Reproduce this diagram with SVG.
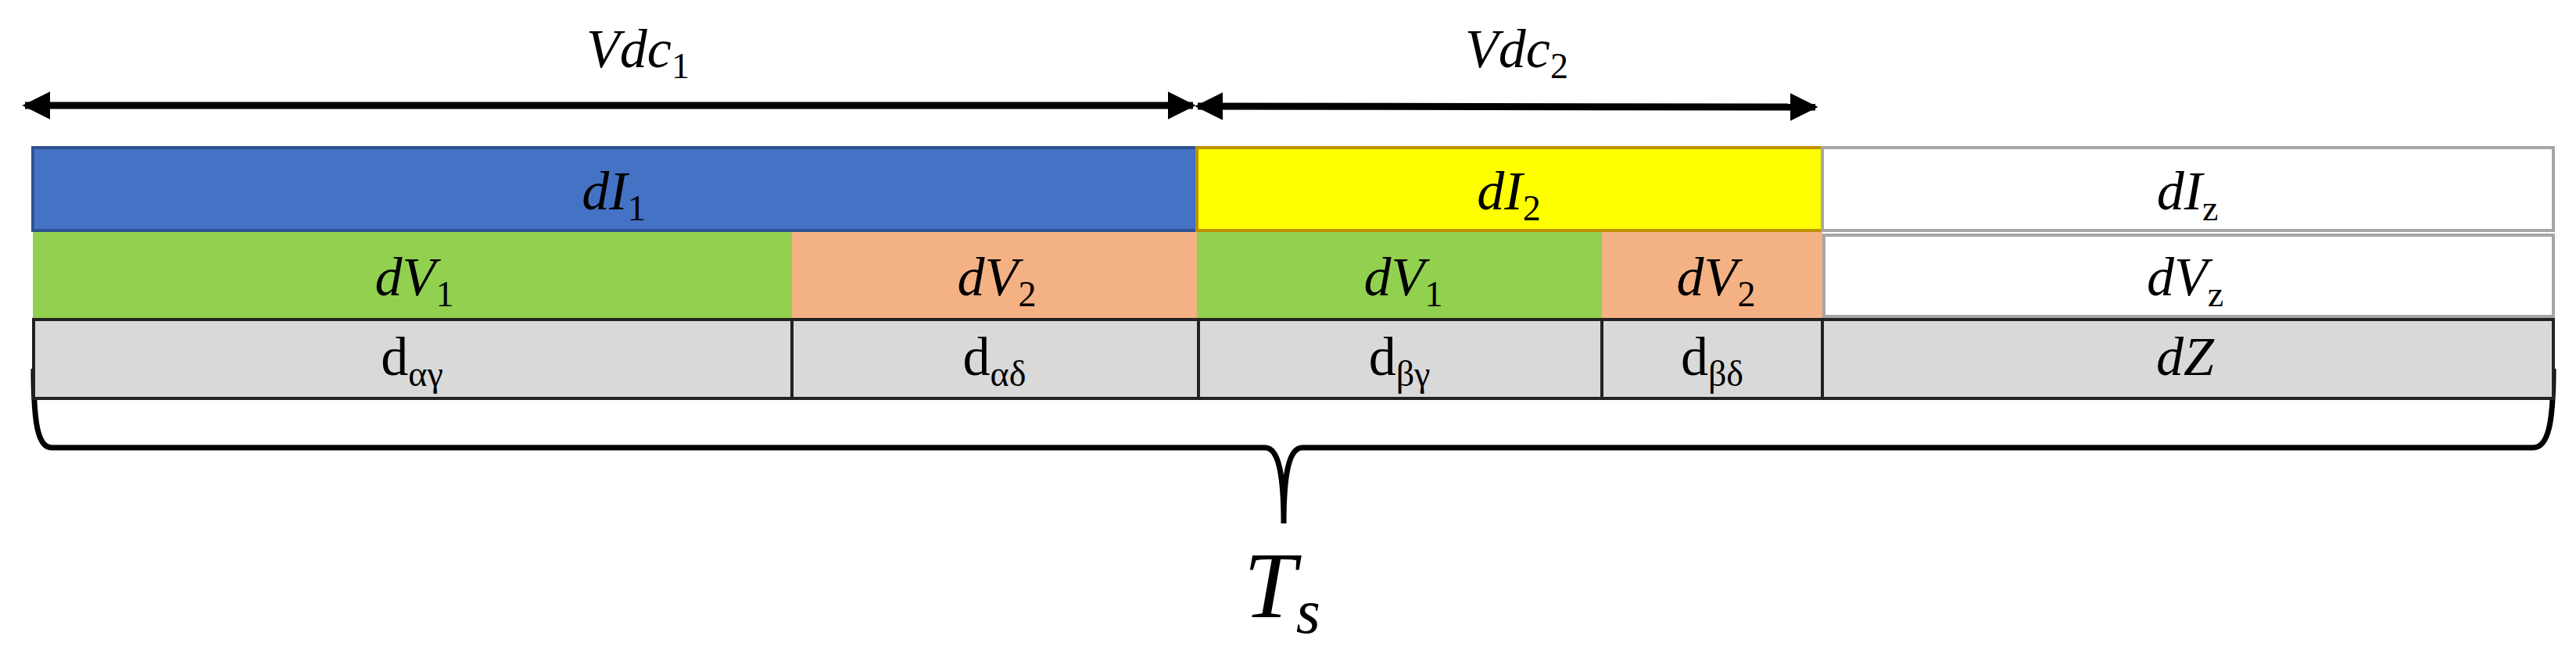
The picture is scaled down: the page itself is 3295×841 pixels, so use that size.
<svg xmlns="http://www.w3.org/2000/svg" width="3295" height="841" viewBox="0 0 3295 841">
<defs>
<marker id="ah" viewBox="0 0 10 10" refX="9" refY="5" markerWidth="4" markerHeight="4" orient="auto-start-reverse"><path d="M0,0 L10,5 L0,10 z" fill="#000"/></marker>
<style>
text{font-family:"Liberation Serif",serif;font-style:italic;font-size:70px;text-anchor:middle;fill:#000}
.sub{font-size:46px;font-style:normal}
.up{font-style:normal}
.c{stroke-width:4}
</style>
</defs>
<g id="connectors" fill="none" stroke="#000">
<line x1="32" y1="135" x2="1526" y2="135" stroke-width="9" marker-start="url(#ah)" marker-end="url(#ah)"/>
<line x1="1532" y1="136" x2="2322" y2="137" stroke-width="9" marker-start="url(#ah)" marker-end="url(#ah)"/>
<path d="M43,472 C43,540 48,573 66,573 L1618,573 C1636,573 1642,610 1642,670 C1642,610 1648,573 1666,573 L3240,573 C3260,573 3266,540 3266,472" stroke-width="7"/>
</g>
<g id="vdc1"><text x="816" y="86">Vdc<tspan class="sub" dy="14">1</tspan></text></g>
<g id="vdc2"><text x="1940" y="86">Vdc<tspan class="sub" dy="14">2</tspan></text></g>
<g id="dI1"><rect x="42" y="189" width="1489" height="106" fill="#4472C4" stroke="#2F528F" class="c"/><text x="785" y="268">dI<tspan class="sub" dy="14">1</tspan></text></g>
<g id="dI2"><rect x="1531" y="189" width="800" height="106" fill="#FFFF00" stroke="#BF9000" class="c"/><text x="1930" y="268">dI<tspan class="sub" dy="14">2</tspan></text></g>
<g id="dIz"><rect x="2331" y="189" width="935" height="106" fill="#fff" stroke="#A6A6A6" class="c"/><text x="2798" y="268">dI<tspan class="sub" dy="14">z</tspan></text></g>
<g id="dV1a"><rect x="42" y="297" width="971" height="110" fill="#92D050"/><text x="530" y="378">dV<tspan class="sub" dy="14">1</tspan></text></g>
<g id="dV2a"><rect x="1013" y="297" width="518" height="110" fill="#F4B183"/><text x="1275" y="378">dV<tspan class="sub" dy="14">2</tspan></text></g>
<g id="dV1b"><rect x="1531" y="297" width="518" height="110" fill="#92D050"/><text x="1795" y="378">dV<tspan class="sub" dy="14">1</tspan></text></g>
<g id="dV2b"><rect x="2049" y="297" width="282" height="110" fill="#F4B183"/><text x="2195" y="378">dV<tspan class="sub" dy="14">2</tspan></text></g>
<g id="dVz"><rect x="2333" y="301" width="933" height="104" fill="#fff" stroke="#A6A6A6" class="c"/><text x="2795" y="378">dV<tspan class="sub" dy="14">z</tspan></text></g>
<g id="dag"><rect x="43" y="409" width="970" height="101" fill="#D9D9D9" stroke="#222" class="c"/><text class="up" x="527" y="480">d<tspan class="sub" dy="14">αγ</tspan></text></g>
<g id="dad"><rect x="1013" y="409" width="520" height="101" fill="#D9D9D9" stroke="#222" class="c"/><text class="up" x="1272" y="480">d<tspan class="sub" dy="14">αδ</tspan></text></g>
<g id="dbg"><rect x="1533" y="409" width="516" height="101" fill="#D9D9D9" stroke="#222" class="c"/><text class="up" x="1790" y="480">d<tspan class="sub" dy="14">βγ</tspan></text></g>
<g id="dbd"><rect x="2049" y="409" width="282" height="101" fill="#D9D9D9" stroke="#222" class="c"/><text class="up" x="2190" y="480">d<tspan class="sub" dy="14">βδ</tspan></text></g>
<g id="dZ"><rect x="2331" y="409" width="935" height="101" fill="#D9D9D9" stroke="#222" class="c"/><text x="2795" y="480">dZ</text></g>
<g id="Ts"><text x="1640" y="790" style="font-size:120px">T<tspan style="font-size:80px" dy="20">s</tspan></text></g>
</svg>
